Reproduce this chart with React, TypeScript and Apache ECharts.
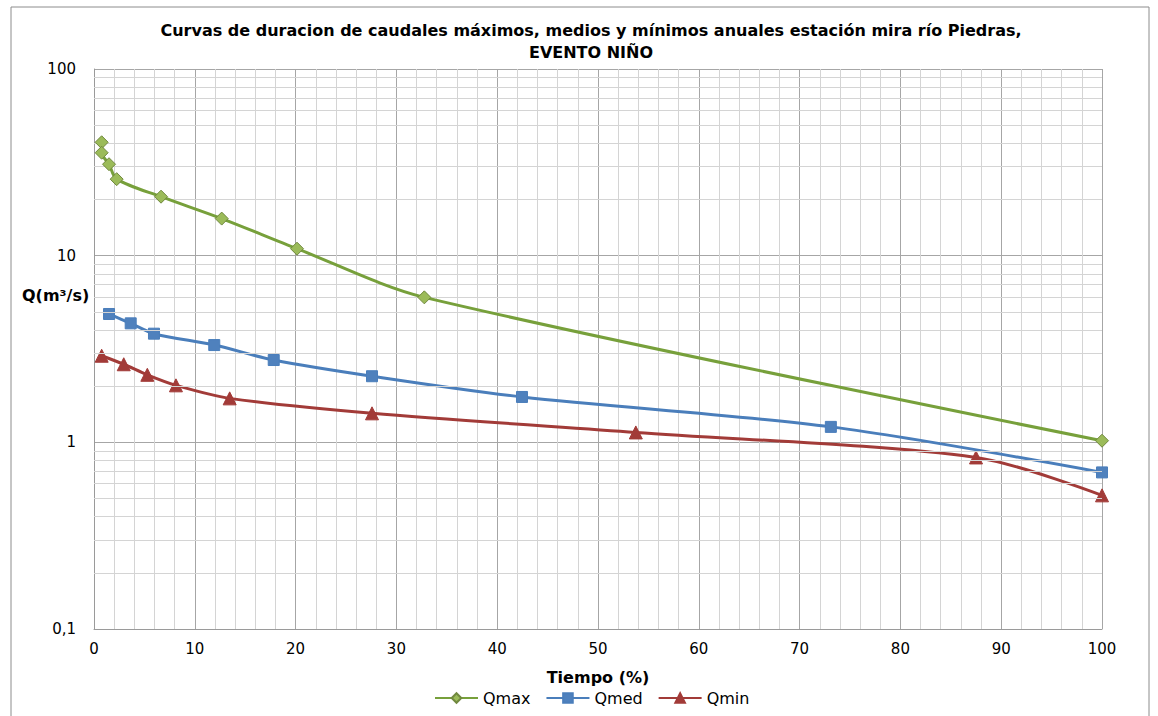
import React, { useEffect, useRef } from "react";
import * as echarts from "echarts";

const qmaxX = [0.76, 0.76, 1.49, 2.25, 6.65, 12.67, 20.14, 32.77, 100];
const qmaxY = [40.5, 35.6, 30.9, 25.7, 20.7, 15.8, 10.9, 5.98, 1.02];
const qmedX = [1.49, 3.64, 5.95, 11.93, 17.83, 27.58, 42.46, 73.1, 100];
const qmedY = [4.87, 4.34, 3.82, 3.32, 2.76, 2.26, 1.75, 1.21, 0.69];
const qminX = [0.76, 2.95, 5.29, 8.13, 13.46, 27.58, 53.75, 87.5, 100];
const qminY = [2.91, 2.62, 2.3, 2.02, 1.72, 1.43, 1.13, 0.83, 0.52];
const yMinorGrid = [0.2, 0.3, 0.4, 0.5, 0.6, 0.7, 0.8, 0.9, 2, 3, 4, 5, 6, 7, 8, 9, 20, 30, 40, 50, 60, 70, 80, 90];
const seriesNames = ["Qmax", "Qmed", "Qmin"];

const FONT = "DejaVu Sans";

export default function App() {
  const ref = useRef<HTMLDivElement>(null);
  useEffect(() => {
    if (!ref.current) return;
    const chart = echarts.init(ref.current, null, { renderer: "svg" });
    const pair = (xs: number[], ys: number[]) => xs.map((x, i) => [x, ys[i]]);
    chart.setOption({
      animation: false,
      backgroundColor: "#fff",
      title: {
        text: "Curvas de duracion de caudales máximos, medios y mínimos anuales estación mira río Piedras,\nEVENTO NIÑO",
        left: 586,
        top: 14,
        textAlign: "center",
        textStyle: { fontFamily: FONT, fontWeight: "bold", fontSize: 16, lineHeight: 22, color: "#000" },
      },
      legend: {
        data: seriesNames,
        bottom: 5,
        left: 429,
        itemWidth: 43,
        itemHeight: 12,
        itemGap: 15,
        textStyle: { fontFamily: FONT, fontSize: 16, color: "#000" },
      },
      grid: { left: 94, right: 56, top: 69, bottom: 87 },
      xAxis: {
        type: "value",
        min: 0,
        max: 100,
        interval: 10,
        name: "Tiempo (%)",
        nameLocation: "middle",
        nameGap: 40,
        nameTextStyle: { fontFamily: FONT, fontWeight: "bold", fontSize: 16, color: "#000" },
        axisLine: { show: true, lineStyle: { color: "#9a9a9a", width: 1 } },
        axisTick: { show: false },
        axisLabel: { fontFamily: FONT, fontSize: 15, color: "#000", margin: 12 },
        splitLine: { show: true, lineStyle: { color: "#a6a6a6", width: 1 } },
        minorTick: { show: false, splitNumber: 5 },
        minorSplitLine: { show: true, lineStyle: { color: "#d4d4d4", width: 1 } },
      },
      yAxis: {
        type: "log",
        logBase: 10,
        min: 0.1,
        max: 100,
        axisLine: { show: true, lineStyle: { color: "#9a9a9a", width: 1 } },
        axisTick: { show: false },
        axisLabel: {
          fontFamily: FONT,
          fontSize: 15,
          color: "#000",
          margin: 18,
          formatter: (v: number) => String(v).replace(".", ","),
        },
        splitLine: { show: true, lineStyle: { color: "#a6a6a6", width: 1 } },
      },
      graphic: [
        {
          type: "rect",
          shape: { x: 11, y: 7, width: 1138, height: 760 },
          style: { fill: "none", stroke: "#8c8c8c", lineWidth: 1 },
          silent: true,
        },
        {
          type: "text",
          left: 22,
          top: 287,
          style: { text: "Q(m³/s)", fontFamily: FONT, fontWeight: "bold", fontSize: 16, fill: "#000" },
        },
      ],
      series: [
        {
          type: "line",
          data: pair(qmaxX, qmaxY),
          symbol: "none",
          lineStyle: { opacity: 0 },
          silent: true,
          z: 1,
          markLine: {
            silent: true,
            symbol: "none",
            label: { show: false },
            lineStyle: { color: "#d4d4d4", width: 1, type: "solid" },
            data: yMinorGrid.map((v) => ({ yAxis: v })),
          },
        },
        {
          name: "Qmax",
          type: "line",
          data: pair(qmaxX, qmaxY),
          smooth: 0.3,
          symbol: "diamond",
          symbolSize: 13,
          lineStyle: { color: "#77a03b", width: 3 },
          itemStyle: { color: "#9bbb59", borderColor: "#71893f", borderWidth: 1 },
          z: 5,
        },
        {
          name: "Qmed",
          type: "line",
          data: pair(qmedX, qmedY),
          smooth: 0.3,
          symbol: "rect",
          symbolSize: 11,
          lineStyle: { color: "#4a7ebb", width: 3 },
          itemStyle: { color: "#4f81bd", borderColor: "#4a7ebb", borderWidth: 1 },
          z: 4,
        },
        {
          name: "Qmin",
          type: "line",
          data: pair(qminX, qminY),
          smooth: 0.3,
          symbol: "triangle",
          symbolSize: 13,
          lineStyle: { color: "#a23b38", width: 3 },
          itemStyle: { color: "#a23b38", borderColor: "#a23b38", borderWidth: 1 },
          z: 3,
        },
      ],
    });
    return () => chart.dispose();
  }, []);
  return <div ref={ref} style={{ width: 1158, height: 716, position: "absolute", left: 0, top: 0 }} />;
}
